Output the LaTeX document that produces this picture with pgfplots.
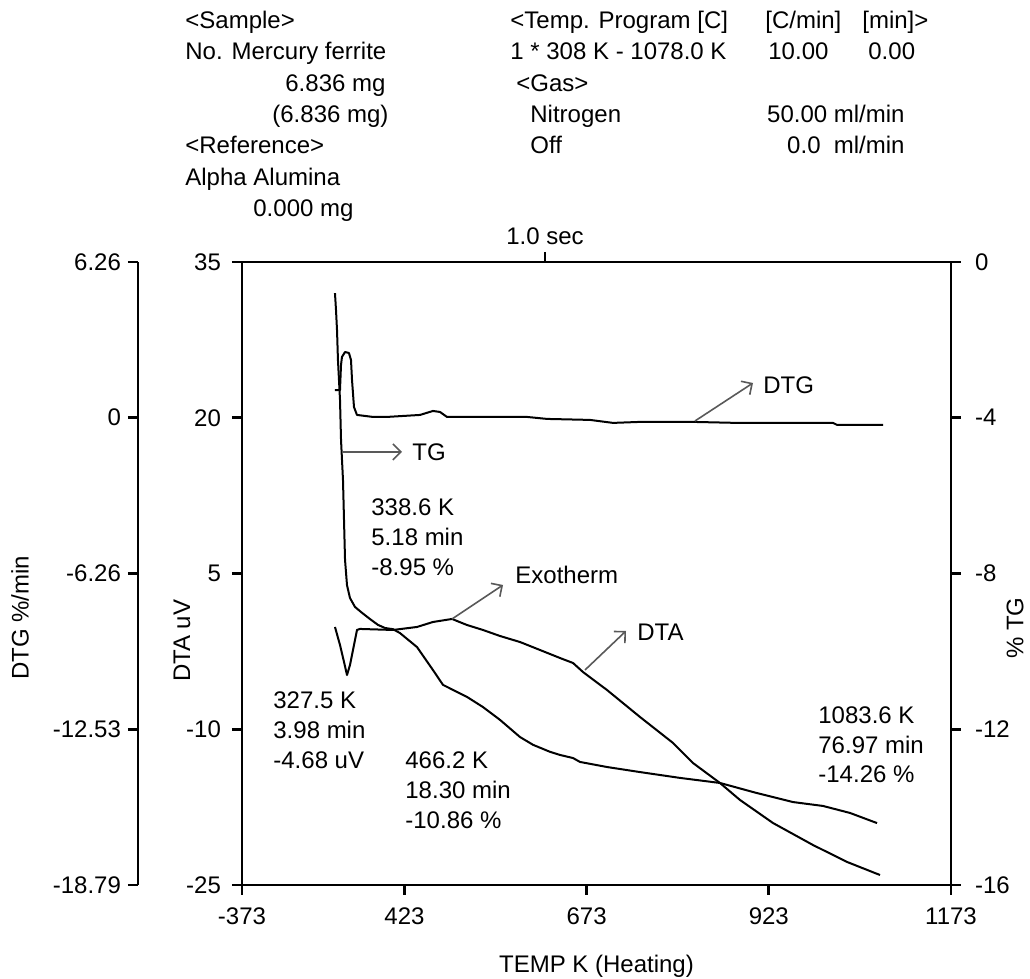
\documentclass[border=0pt]{standalone}
\usepackage{fontspec}
\setmainfont{Liberation Sans}
\usepackage{pgfplots}
\pgfplotsset{compat=1.18}
\usetikzlibrary{arrows.meta}

\begin{document}
\begin{tikzpicture}[font=\fontsize{12}{14}\selectfont]
\useasboundingbox (0,0) rectangle (515pt,489.5pt);
\pgfplotsset{
  thermo/.style={scale only axis, width=354.5pt, height=311.5pt,
    anchor=south west, at={(121pt,47pt)}, xmin=200, xmax=1173,
    tick align=outside, major tick length=5pt,
    tick style={black, line width=1.4pt},
    axis line style={line width=1.4pt},
    tick label style={font=\fontsize{12}{14}\selectfont},
    label style={font=\fontsize{12}{14}\selectfont}},
  curve/.style={black, line width=1pt, line join=round, no markers},
}

% DTA (left axis, main box)
\begin{axis}[thermo, ymin=-25, ymax=35,
  xtick={200,423,673,923,1173}, xticklabels={-373,423,673,923,1173},
  ytick={-25,-10,5,20,35}, yticklabels={-25,-10,5,20,35},
  xtick pos=left, ytick pos=left,
  xticklabel style={yshift=-3pt}, yticklabel style={xshift=-2pt},
  xlabel={TEMP K (Heating)}, ylabel={DTA uV},
  xlabel style={at={(axis description cs:0.5,-0.130)}, anchor=center},
  ylabel style={at={(axis description cs:-0.0846,0.392)}, anchor=center}]
\addplot[curve] coordinates {
(327.6,-0.15) (334.5,-1.89) (340.0,-3.52) (344.1,-4.78) (348.2,-3.81)
(353.7,-1.89) (357.8,-0.44) (361.9,-0.34) (407.2,-0.44) (440.2,-0.15)
(462.1,0.33) (488.2,0.62) (508.8,0.04) (530.7,-0.44) (554.1,-1.02)
(581.5,-1.60) (609.0,-2.37) (636.4,-3.14) (654.3,-3.62) (668.0,-4.49)
(700.9,-6.22) (746.2,-8.82) (791.5,-11.32) (818.9,-13.25) (856.0,-15.18)
(883.4,-16.81) (928.7,-19.03) (983.6,-21.15) (1030.3,-22.78) (1075.6,-24.04)};
\end{axis}

% TG (right axis) with the time tick on top
\begin{axis}[thermo, ymin=-16, ymax=0,
  axis x line*=top, axis y line*=right,
  xtick={615.8}, xticklabels={1.0 sec},
  ytick={-16,-12,-8,-4,0}, yticklabels={-16,-12,-8,-4,0},
  yticklabel style={anchor=west, xshift=3.5pt},
  ylabel={\% TG},
  ylabel style={at={(axis description cs:1.0903,0.412)}, anchor=center}]
\addplot[curve] coordinates {
(327.6,-0.80) (329.0,-1.23) (330.4,-1.75) (331.7,-2.52) (334.5,-3.54)
(335.9,-4.57) (338.6,-5.60) (340.0,-6.63) (341.4,-7.65) (344.1,-8.30)
(348.2,-8.63) (355.1,-8.86) (364.7,-9.01) (375.7,-9.17) (386.6,-9.32)
(396.3,-9.40) (407.2,-9.43) (416.8,-9.53) (440.2,-9.89) (462.1,-10.48)
(475.8,-10.86) (508.8,-11.17) (530.7,-11.43) (554.1,-11.76) (581.5,-12.20)
(599.4,-12.40) (622.7,-12.58) (636.4,-12.66) (654.3,-12.74) (663.9,-12.84)
(700.9,-12.97) (746.2,-13.10) (801.1,-13.25) (856.0,-13.38) (906.8,-13.64)
(956.2,-13.87) (997.3,-13.97) (1034.4,-14.15) (1071.5,-14.41)};
\end{axis}

% DTG (separate scale at far left)
\begin{axis}[scale only axis, width=406.5pt, height=311.5pt,
  anchor=south west, at={(69pt,47pt)}, xmin=57.3, xmax=1173,
  ymin=-18.79, ymax=6.26,
  axis x line=none, axis y line*=left,
  tick align=outside, major tick length=5pt,
  tick style={black, line width=1.4pt},
  axis line style={line width=1.4pt},
  tick label style={font=\fontsize{12}{14}\selectfont},
  label style={font=\fontsize{12}{14}\selectfont},
  ytick={-18.79,-12.53,-6.26,0,6.26},
  yticklabels={-18.79,-12.53,-6.26,0,6.26},
  ylabel={DTG \%/min},
  ylabel style={at={(axis description cs:-0.1451,0.4286)}, anchor=center}]
\addplot[curve] coordinates {
(327.6,1.11) (334.5,1.11) (335.9,2.12) (337.2,2.44) (341.4,2.64)
(346.8,2.60) (349.6,2.32) (351.0,1.52) (353.7,0.43) (357.8,0.11)
(379.8,0.03) (399.0,0.03) (444.3,0.11) (462.1,0.27) (471.7,0.23)
(481.3,0.03) (517.0,0.03) (591.1,0.03) (618.6,-0.05) (677.6,-0.09)
(709.2,-0.21) (746.2,-0.17) (818.9,-0.17) (879.3,-0.21) (901.3,-0.21)
(1011.1,-0.21) (1016.6,-0.29) (1079.7,-0.29)};
\end{axis}

% header, annotations and arrows (pixel grid of the reference)
\begin{scope}[shift={(0pt,489.5pt)}, x=0.5pt, y=-0.5pt,
  t/.style={anchor=west, inner sep=0pt, text height=8.6pt, text depth=0pt},
  te/.style={anchor=east, inner sep=0pt, text height=8.6pt, text depth=0pt},
  ar/.style={black!65, line width=0.8pt, -{Straight Barb[length=4pt,width=8pt]}}]
\node[t] at (185,20) {<Sample>};
\node[t] at (185,51) {No. Mercury ferrite};
\node[t] at (285,83) {6.836 mg};
\node[t] at (272,114) {(6.836 mg)};
\node[t] at (185,145) {<Reference>};
\node[t] at (185,177) {Alpha Alumina};
\node[t] at (253,208) {0.000 mg};
\node[t] at (510,20) {<Temp. Program [C]};
\node[t] at (765,20) {[C/min]};
\node[t] at (862,20) {[min]>};
\node[t] at (510,51) {1 * 308 K - 1078.0 K};
\node[t] at (768,51) {10.00};
\node[t] at (868,51) {0.00};
\node[t] at (516,83) {<Gas>};
\node[t] at (530,114) {Nitrogen};
\node[te] at (905,114) {50.00 ml/min};
\node[t] at (530,145) {Off};
\node[te] at (905,145) {0.0~~ml/min};
\node[t] at (371,507) {338.6 K};
\node[t] at (371,537) {5.18 min};
\node[t] at (371,567) {-8.95 \%};
\node[t] at (273,700) {327.5 K};
\node[t] at (273,730) {3.98 min};
\node[t] at (273,760) {-4.68 uV};
\node[t] at (405,760) {466.2 K};
\node[t] at (405,790) {18.30 min};
\node[t] at (405,820) {-10.86 \%};
\node[t] at (818,715) {1083.6 K};
\node[t] at (818,745) {76.97 min};
\node[t] at (818,774) {-14.26 \%};
\node[t] at (412,452) {TG};
\node[t] at (763,385) {DTG};
\node[t] at (515,575) {Exotherm};
\node[t] at (637,632) {DTA};
\draw[ar] (343,452) -- (402,452);
\draw[ar] (695,421) -- (753,383);
\draw[ar] (452,619) -- (503,585);
\draw[ar] (585,670) -- (626,631);
\end{scope}
\end{tikzpicture}
\end{document}
